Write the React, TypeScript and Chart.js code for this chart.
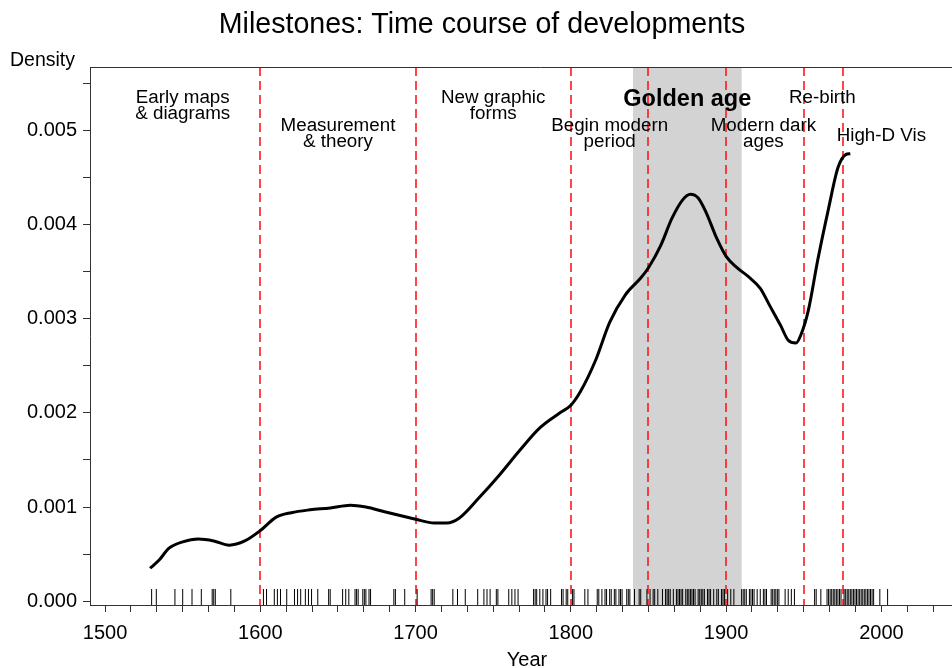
import React, { useEffect, useRef } from 'react';
import { Chart, registerables } from 'chart.js';

Chart.register(...registerables);

const TITLE = 'Milestones: Time course of developments';
const X_TITLE = 'Year';
const Y_TITLE = 'Density';
const FONT = "'Liberation Sans', Arial, Helvetica, sans-serif";

// Kernel density curve (year, density)
const densityYears = [
  1529, 1535, 1541, 1550, 1560, 1570, 1580, 1590, 1600, 1610, 1620, 1632, 1645, 1658, 1668,
  1680, 1690, 1700, 1712, 1720, 1728, 1741, 1754, 1767, 1780, 1793, 1800, 1806, 1816, 1825,
  1835, 1845, 1850, 1858, 1865, 1872, 1877, 1882, 1887, 1894, 1900, 1907, 1914, 1922, 1928,
  1935, 1940, 1945, 1948, 1953, 1959, 1966, 1972, 1977, 1980,
];
const densityValues = [
  0.00035, 0.00044, 0.00056, 0.00063, 0.00066, 0.00064, 0.000595, 0.00064, 0.00075, 0.00089,
  0.00094, 0.00097, 0.00099, 0.00102, 0.001, 0.00095, 0.00091, 0.00087, 0.00083, 0.00083,
  0.00088, 0.0011, 0.00134, 0.0016, 0.00184, 0.002, 0.00208, 0.00222, 0.00256, 0.00296,
  0.00325, 0.00343, 0.00354, 0.00378, 0.00406, 0.00426, 0.00432, 0.00428, 0.00413, 0.00385,
  0.00366, 0.00354, 0.00345, 0.00332, 0.00314, 0.00293, 0.00277, 0.00274, 0.00282, 0.00309,
  0.00362, 0.00417, 0.0046, 0.00474, 0.00475,
];

// Rug: years of milestones
const rugYears = [
  1530, 1533, 1545, 1550, 1556, 1562, 1569, 1570, 1571, 1581,
  1602, 1604, 1609, 1611, 1613, 1617, 1622, 1624, 1626, 1629, 1631, 1633, 1637, 1644, 1645,
  1653, 1655, 1657, 1661, 1662, 1663, 1666, 1667, 1668, 1670, 1671, 1686, 1687, 1693,
  1701, 1710, 1711, 1712, 1724, 1727, 1732, 1740, 1744, 1746, 1748, 1752, 1753, 1760, 1762,
  1764, 1766, 1776, 1777, 1778, 1780, 1782, 1784, 1785, 1787, 1794, 1795, 1797, 1798,
  1801, 1802, 1809, 1811, 1817, 1818, 1820, 1822, 1823, 1825, 1826, 1828, 1829, 1831, 1832,
  1833, 1836, 1837, 1838, 1841, 1844, 1845, 1849,
  1851, 1853, 1854, 1856, 1859, 1861, 1862, 1863, 1864, 1866, 1868, 1869, 1870, 1871, 1872,
  1874, 1875, 1876, 1877, 1878, 1879, 1880, 1882, 1883, 1884, 1885, 1886, 1888, 1889, 1890,
  1892, 1894, 1895, 1897, 1898, 1899, 1901, 1903, 1905, 1910, 1911, 1912, 1913, 1915, 1916,
  1917, 1918, 1920, 1922, 1924, 1925, 1926, 1929, 1930, 1931, 1932, 1933, 1934, 1938, 1940,
  1942, 1944,
  1957, 1958, 1961, 1965, 1966, 1967, 1968, 1969, 1970, 1971, 1972, 1973, 1974, 1976, 1977,
  1978, 1979, 1980, 1981, 1982, 1983, 1984, 1985, 1986, 1987, 1988, 1989, 1990, 1991, 1992,
  1993, 1994, 1995, 1999, 2004,
];
const RUG_LEVEL = 0.000045;

const periodBreaks = [1600, 1700, 1800, 1850, 1900, 1950, 1975];
const goldenAgeSpan = [1840, 1910];

const periodLabels = [
  'Early maps\n& diagrams',
  'Measurement\n& theory',
  'New graphic\nforms',
  'Begin modern\nperiod',
  'Golden age',
  'Modern dark\nages',
  'Re-birth',
  'High-D Vis',
];
const periodLabelYears = [1550, 1650, 1750, 1825, 1875, 1924, 1962, 2000];
const periodLabelLevels = [0.00526, 0.00496, 0.00526, 0.00496, 0.00533, 0.00496, 0.00534, 0.00494];
const periodLabelBold = [false, false, false, false, true, false, false, false];

const X_MIN = 1490.3;
const X_MAX = 2070.6;
const Y_MIN = -0.00004;
const Y_MAX = 0.00567;

const decorPlugin = {
  id: 'decor',
  beforeDatasetsDraw(chart: any) {
    const { ctx, chartArea: a, scales } = chart;
    const x = scales.x;
    ctx.save();
    const x0 = x.getPixelForValue(goldenAgeSpan[0]);
    const x1 = x.getPixelForValue(goldenAgeSpan[1]);
    ctx.fillStyle = '#d3d3d3';
    ctx.fillRect(x0, a.top, x1 - x0, a.bottom - a.top);
    ctx.strokeStyle = '#ff1a1a';
    ctx.lineWidth = 1.6;
    ctx.setLineDash([9, 5]);
    for (const b of periodBreaks) {
      const px = Math.round(x.getPixelForValue(b));
      ctx.beginPath();
      ctx.moveTo(px, a.top);
      ctx.lineTo(px, a.bottom);
      ctx.stroke();
    }
    ctx.restore();
  },
  afterDatasetsDraw(chart: any) {
    const { ctx, scales } = chart;
    const x = scales.x;
    const y = scales.y;
    ctx.save();
    ctx.fillStyle = '#000';
    ctx.textAlign = 'center';
    ctx.textBaseline = 'middle';
    periodLabels.forEach((label, i) => {
      const lines = label.split('\n');
      const px = x.getPixelForValue(periodLabelYears[i]);
      const py = y.getPixelForValue(periodLabelLevels[i]);
      ctx.font = periodLabelBold[i] ? `bold 23.5px ${FONT}` : `18.8px ${FONT}`;
      lines.forEach((ln, j) => {
        ctx.fillText(ln, px, py + (j - (lines.length - 1) / 2) * 16);
      });
    });
    ctx.restore();
  },
  afterDraw(chart: any) {
    const { ctx, chartArea: a } = chart;
    ctx.save();
    ctx.strokeStyle = '#333';
    ctx.lineWidth = 1;
    ctx.beginPath();
    ctx.moveTo(a.left, Math.round(a.top) + 0.5);
    ctx.lineTo(a.right, Math.round(a.top) + 0.5);
    ctx.stroke();
    ctx.fillStyle = '#000';
    ctx.textBaseline = 'middle';
    ctx.textAlign = 'center';
    ctx.font = `28.6px ${FONT}`;
    ctx.fillText(TITLE, 482, 25);
    ctx.font = `20px ${FONT}`;
    ctx.fillText(X_TITLE, 527, 660);
    ctx.font = `19.5px ${FONT}`;
    ctx.textAlign = 'left';
    ctx.fillText(Y_TITLE, 10, 61);
    ctx.restore();
  },
};

export default function App() {
  const ref = useRef<HTMLCanvasElement | null>(null);
  useEffect(() => {
    document.body.style.margin = '0';
    document.body.style.overflow = 'hidden';
    const canvas = ref.current;
    if (!canvas) return;
    const chart = new Chart(canvas, {
      type: 'line',
      data: {
        datasets: [
          {
            label: 'Density',
            data: densityYears.map((yr, i) => ({ x: yr, y: densityValues[i] })),
            borderColor: '#000',
            borderWidth: 3,
            pointRadius: 0,
            fill: false,
            cubicInterpolationMode: 'monotone',
          } as any,
          {
            type: 'scatter',
            label: 'Milestones',
            data: rugYears.map((yr) => ({ x: yr, y: RUG_LEVEL })),
            pointStyle: 'line',
            rotation: 90,
            pointRadius: 8,
            pointBorderWidth: 1,
            pointBorderColor: '#000',
            borderColor: '#000',
            showLine: false,
          } as any,
        ],
      },
      options: {
        animation: false,
        responsive: false,
        events: [],
        layout: { padding: { top: 67, left: 0, right: 0, bottom: 0 } },
        plugins: { legend: { display: false }, tooltip: { enabled: false }, title: { display: false } },
        scales: {
          x: {
            type: 'linear',
            min: X_MIN,
            max: X_MAX,
            afterFit: (s: any) => { s.height = 63; },
            afterBuildTicks: (s: any) => {
              const t = [];
              for (let k = 0; 1500 + (k * 100) / 6 <= X_MAX; k++) t.push({ value: 1500 + (k * 100) / 6 });
              s.ticks = t;
            },
            ticks: {
              autoSkip: false,
              maxRotation: 0,
              color: '#000',
              padding: 9,
              font: { family: FONT, size: 20 },
              callback: (v: any) => {
                const n = Number(v);
                return Math.abs(n / 100 - Math.round(n / 100)) < 1e-6 ? String(Math.round(n)) : '';
              },
            },
            grid: { drawOnChartArea: false, drawTicks: true, tickLength: 7, color: '#333' },
            border: { display: true, color: '#333', width: 1 },
          },
          y: {
            type: 'linear',
            min: Y_MIN,
            max: Y_MAX,
            afterFit: (s: any) => { s.width = 90; },
            afterBuildTicks: (s: any) => {
              const t = [];
              for (let k = 0; k <= 11; k++) t.push({ value: k * 0.0005 });
              s.ticks = t;
            },
            ticks: {
              autoSkip: false,
              color: '#000',
              padding: 6,
              font: { family: FONT, size: 20 },
              callback: (v: any) => {
                const n = Number(v) * 1000;
                return Math.abs(n - Math.round(n)) < 1e-6 ? Number(v).toFixed(3) : '';
              },
            },
            grid: { drawOnChartArea: false, drawTicks: true, tickLength: 7, color: '#333' },
            border: { display: true, color: '#333', width: 1 },
          },
        },
      },
      plugins: [decorPlugin],
    });
    return () => chart.destroy();
  }, []);
  return (
    <div style={{ position: 'fixed', left: 0, top: 0, width: 1000, height: 668, background: '#fff' }}>
      <canvas ref={ref} width={1000} height={668} />
    </div>
  );
}
